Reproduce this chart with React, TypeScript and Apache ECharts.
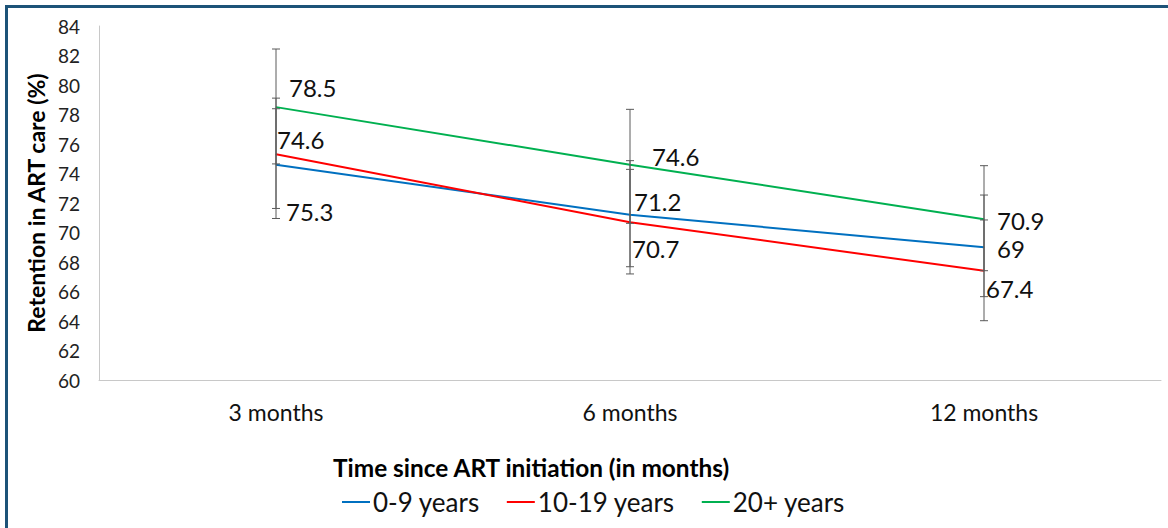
import React, { useEffect, useRef } from "react";
import * as echarts from "echarts";

const categories = ["3 months", "6 months", "12 months"];
const seriesNames = ["0-9 years", "10-19 years", "20+ years"];
const blueValues = [74.6, 71.2, 69];
const redValues = [75.3, 70.7, 67.4];
const greenValues = [78.5, 74.6, 70.9];
const blueLow = [70.95, 67.68, 65.65];
const blueHigh = [78.39, 74.87, 72.54];
const redLow = [71.63, 67.19, 64.02];
const redHigh = [79.11, 74.28, 70.85];
const greenLow = [74.65, 70.62, 67.41];
const greenHigh = [82.44, 78.35, 74.53];
const yMin = 60;
const yMax = 84;
const yInterval = 2;
const xTitle = "Time since ART initiation (in months)";
const yTitle = "Retention in ART care (%)";

const colors = ["#0070C0", "#FF0000", "#00B050"];
const labelOffsets = [
  [[1, -25], [4, -13], [13, 1]],
  [[10, 57], [2, 26], [2, 18]],
  [[13, -20], [22, -8], [13, 1]],
];

const FONT = "Lato, 'Open Sans', sans-serif";

export default function App() {
  const ref = useRef<HTMLDivElement>(null);
  useEffect(() => {
    if (!ref.current) return;
    const chart = echarts.init(ref.current, undefined, { renderer: "svg" });
    const values = [blueValues, redValues, greenValues];
    const lows = [blueLow, redLow, greenLow];
    const highs = [blueHigh, redHigh, greenHigh];

    const lineSeries = seriesNames.map((name, si) => ({
      name,
      type: "line",
      data: values[si].map((v, i) => ({
        value: v,
        label: {
          show: true,
          position: "inside",
          align: "left",
          verticalAlign: "middle",
          offset: labelOffsets[si][i],
        },
      })),
      symbol: "circle",
      symbolSize: 1,
      showSymbol: true,
      lineStyle: { color: colors[si], width: 2 },
      itemStyle: { color: colors[si] },
      label: {
        show: true,
        fontSize: 24,
        color: "#111",
        fontFamily: FONT,
        formatter: (p: any) => String(p.value),
      },
      emphasis: { disabled: true },
      z: 3,
    }));

    const errSeries = seriesNames.map((name, si) => ({
      name: name + " error",
      type: "custom",
      data: categories.map((_, i) => [i, lows[si][i], highs[si][i]]),
      encode: { x: 0, y: [1, 2] },
      renderItem: (params: any, api: any) => {
        const x = api.value(0);
        const lo = api.coord([x, api.value(1)]);
        const hi = api.coord([x, api.value(2)]);
        const st = { stroke: "#5a5a5a", lineWidth: 1 };
        return {
          type: "group",
          children: [
            { type: "line", shape: { x1: lo[0], y1: lo[1], x2: hi[0], y2: hi[1] }, style: st },
            { type: "line", shape: { x1: lo[0] - 4, y1: lo[1], x2: lo[0] + 4, y2: lo[1] }, style: st },
            { type: "line", shape: { x1: hi[0] - 4, y1: hi[1], x2: hi[0] + 4, y2: hi[1] }, style: st },
          ],
        };
      },
      z: 4,
      silent: true,
    }));

    chart.setOption({
      animation: false,
      textStyle: { fontFamily: FONT },
      grid: { left: 99, right: 7, top: 26, bottom: 148, containLabel: false },
      legend: {
        data: seriesNames.map((n) => ({ name: n, icon: "rect" })),
        left: 342,
        top: 489,
        padding: 0,
        itemWidth: 28,
        itemHeight: 2,
        itemGap: 27,
        textStyle: { fontSize: 26, color: "#111", fontFamily: FONT, padding: [0, 0, 0, -2] },
      },
      xAxis: {
        type: "category",
        data: categories,
        boundaryGap: true,
        axisLine: { lineStyle: { color: "#c8c8c8", width: 1 } },
        axisTick: { show: false },
        axisLabel: { fontSize: 23, color: "#111", margin: 20, fontFamily: FONT },
        splitLine: { show: false },
      },
      yAxis: {
        type: "value",
        min: yMin,
        max: yMax,
        interval: yInterval,
        name: yTitle,
        nameLocation: "middle",
        nameGap: 45,
        nameTextStyle: { fontSize: 23, fontWeight: "bold", color: "#000", fontFamily: FONT },
        axisLine: { show: true, lineStyle: { color: "#c8c8c8", width: 1 } },
        axisTick: { show: false },
        axisLabel: { fontSize: 19, color: "#222", margin: 19, fontFamily: FONT },
        splitLine: { show: false },
      },
      graphic: [
        {
          type: "text",
          left: 333,
          top: 455,
          style: { text: xTitle, fill: "#000", font: "bold 24.4px " + FONT },
        },
      ],
      series: [...lineSeries, ...errSeries],
    });
    return () => chart.dispose();
  }, []);

  return (
    <div style={{ position: "fixed", left: 0, top: 0, width: 1168, height: 528, background: "#fff" }}>
      <div ref={ref} style={{ position: "absolute", left: 0, top: 0, width: 1168, height: 528 }} />
      <div
        style={{
          position: "absolute",
          left: 5,
          top: 5,
          width: 1170,
          height: 530,
          borderTop: "3px solid #1d5378",
          borderLeft: "3px solid #1d5378",
          pointerEvents: "none",
        }}
      />
    </div>
  );
}
